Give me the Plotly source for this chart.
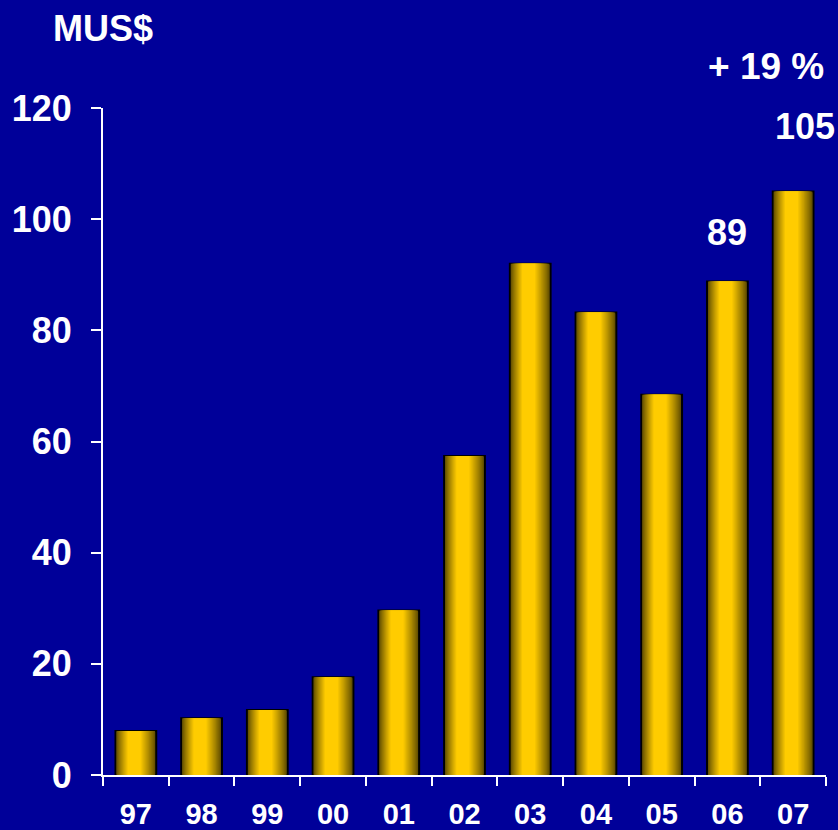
import plotly.graph_objects as go

years = ["97", "98", "99", "00", "01", "02", "03", "04", "05", "06", "07"]
values = [7.9, 10.2, 11.7, 17.6, 29.6, 57.4, 92.0, 83.2, 68.4, 88.8, 105.0]
bar_labels = ["", "", "", "", "", "", "", "", "", "89", "105"]
growth_text = "+ 19 %"
unit_text = "MUS$"
y_ticks = [0, 20, 40, 60, 80, 100, 120]

BG = "#000099"
FONT = "Liberation Sans, Arial, sans-serif"

def mix(c1, c2, t):
    return "rgb(%d,%d,%d)" % tuple(round(a + (b - a) * t) for a, b in zip(c1, c2))

dark = (85, 68, 0)
bright = (255, 204, 0)

fig = go.Figure()
W = 0.62
N = 14
for i in range(N):
    t = i / (N - 1)
    w = W * (1 - 0.68 * t)
    center_shift = -0.04 * W * t
    col = mix(dark, bright, t ** 0.85)
    fig.add_trace(go.Bar(
        x=years, y=values, width=w, offset=-w / 2 + center_shift,
        marker=dict(color=col,
                    line=dict(color="black", width=2 if i == 0 else 0)),
        hoverinfo="skip", showlegend=False,
    ))

for idx, (v, lab) in enumerate(zip(values, bar_labels)):
    if lab:
        fig.add_annotation(x=idx, y=v, text=lab, showarrow=False,
                           yanchor="bottom", yshift=26 if lab != "105" else 42,
                           xshift=0 if lab != "105" else 12,
                           font=dict(family=FONT, size=36, color="white", weight="bold"))

fig.add_annotation(xref="paper", yref="paper", x=1.0, y=1.0, yshift=42,
                   xanchor="right", yanchor="middle", text=growth_text,
                   showarrow=False,
                   font=dict(family=FONT, size=37, color="white", weight="bold"))
fig.add_annotation(xref="paper", yref="paper", x=-0.072, y=1.0, yshift=80,
                   xanchor="left", yanchor="middle", text=unit_text,
                   showarrow=False,
                   font=dict(family=FONT, size=36, color="white", weight="bold"))

fig.update_layout(
    width=838, height=830,
    margin=dict(l=103, r=12, t=108, b=55, autoexpand=False),
    paper_bgcolor=BG, plot_bgcolor=BG,
    barmode="overlay",
)
fig.update_xaxes(
    type="category", tickson="boundaries", automargin=False,
    range=[-0.5, len(years) - 0.5],
    showline=True, linecolor="white", linewidth=2,
    ticks="outside", ticklen=9, tickwidth=2, tickcolor="white",
    showgrid=False, zeroline=False,
    tickfont=dict(family=FONT, size=29, color="white", weight="bold"),
    ticklabelstandoff=12,
)
fig.update_yaxes(
    range=[0, 120], tickvals=y_ticks, automargin=False,
    showline=True, linecolor="white", linewidth=2,
    ticks="outside", ticklen=10, tickwidth=2, tickcolor="white",
    showgrid=False, zeroline=False,
    tickfont=dict(family=FONT, size=36, color="white", weight="bold"),
    ticklabelstandoff=12,
)

fig.write_html("out.html", config={"displayModeBar": False},
               post_script="document.body.style.margin='0';document.body.style.overflow='hidden';")
